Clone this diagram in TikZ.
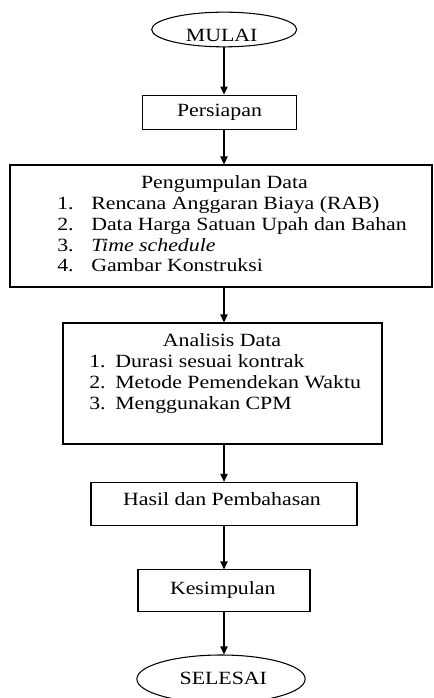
\documentclass[tikz,border=0pt]{standalone}
\usepackage{fontspec}
\setmainfont{Liberation Serif}[FakeStretch=1.17]
\usetikzlibrary{arrows.meta,shapes.geometric}

\tikzset{
	kotak/.style={draw,line width=0.8pt,inner sep=0pt},
	oval/.style={draw,ellipse,line width=0.8pt,inner sep=0pt},
	panah/.style={line width=0.8pt,-{Triangle[length=6pt,width=5.5pt]}},
	teks/.style={inner sep=0pt,font=\fontsize{14pt}{15.5pt}\selectfont}
}

\begin{document}
\begin{tikzpicture}[x=0.75pt,y=-0.75pt]
	\useasboundingbox (0,0) rectangle (433,698);

	% Bentuk (oval dan kotak)
	\node[oval,minimum width=108.75pt,minimum height=26pt] (mulai) at (224.2,29.5) {};
	\node[kotak,minimum width=115pt,minimum height=25.7pt] (persiapan) at (219.4,112.2) {};
	\node[kotak,minimum width=316.5pt,minimum height=91.5pt] (kumpul) at (221,226) {};
	\node[kotak,minimum width=239.25pt,minimum height=90.75pt] (analisis) at (222.5,383.5) {};
	\node[kotak,minimum width=199.5pt,minimum height=32pt] (hasil) at (224,503.7) {};
	\node[kotak,minimum width=129pt,minimum height=31.3pt] (simpul) at (224,590.8) {};
	\node[oval,minimum width=126.2pt,minimum height=36pt] (selesai) at (221,679) {};

	% Teks
	\node[teks,anchor=base] (tmulai) at (221.7,41.7) {MULAI};
	\node[teks,anchor=base] (tpersiapan) at (219.5,116.7) {Persiapan};
	\node[teks,anchor=base] (tkumpul) at (224.5,188.7) {Pengumpulan Data};
	\node[teks,anchor=base west] (lkumpul) at (57,210) {%
		\begin{tabular}[t]{@{}p{25.5pt}@{}l@{}}
			1. & Rencana Anggaran Biaya (RAB)\\
			2. & Data Harga Satuan Upah dan Bahan\\
			3. & \textit{Time schedule}\\
			4. & Gambar Konstruksi
		\end{tabular}};
	\node[teks,anchor=base] (tanalisis) at (222,346.7) {Analisis Data};
	\node[teks,anchor=base west] (lanalisis) at (89,367.7) {%
		\begin{tabular}[t]{@{}p{19.5pt}@{}l@{}}
			1. & Durasi sesuai kontrak\\
			2. & Metode Pemendekan Waktu\\
			3. & Menggunakan CPM
		\end{tabular}};
	\node[teks,anchor=base] (thasil) at (222,505) {Hasil dan Pembahasan};
	\node[teks,anchor=base] (tsimpul) at (222.8,594.3) {Kesimpulan};
	\node[teks,anchor=base] (tselesai) at (223.3,684) {SELESAI};

	% Panah
	\coordinate (spine) at (224,0);
	\draw[panah] (mulai.south -| spine) -- (persiapan.north -| spine);
	\draw[panah] (persiapan.south -| spine) -- (kumpul.north -| spine);
	\draw[panah] (kumpul.south -| spine) -- (analisis.north -| spine);
	\draw[panah] (analisis.south -| spine) -- (hasil.north -| spine);
	\draw[panah] (hasil.south -| spine) -- (simpul.north -| spine);
	\draw[panah] (simpul.south -| spine) -- (selesai.north -| spine);

\end{tikzpicture}
\end{document}
